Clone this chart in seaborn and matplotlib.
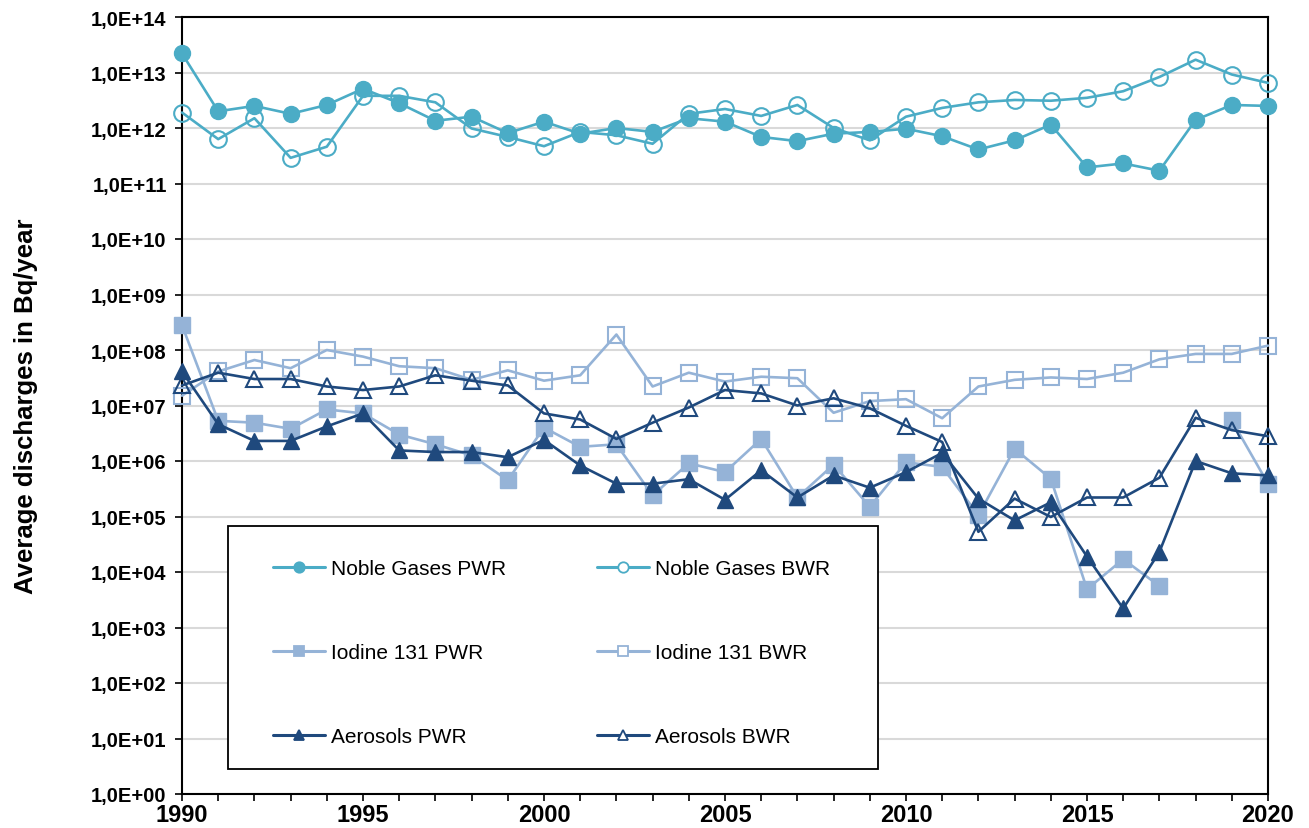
import numpy as np
import pandas as pd
import matplotlib
matplotlib.use("Agg")
import matplotlib.pyplot as plt
import matplotlib.ticker as mticker
from matplotlib.lines import Line2D
from matplotlib.patches import Rectangle
import seaborn as sns

# Average yearly discharges with exhaust air (Bq/year)
years = list(range(1990, 2021))

noble_gases_pwr = [2.2e13, 2.0e12, 2.5e12, 1.8e12, 2.6e12, 5.1e12, 2.8e12, 1.35e12,
                   1.6e12, 8.1e11, 1.3e12, 7.9e11, 1.0e12, 8.5e11, 1.5e12, 1.3e12,
                   6.9e11, 5.8e11, 7.9e11, 8.5e11, 9.7e11, 7.1e11, 4.1e11, 6.0e11,
                   1.15e12, 1.95e11, 2.3e11, 1.7e11, 1.4e12, 2.6e12, 2.5e12]
noble_gases_bwr = [1.9e12, 6.3e11, 1.5e12, 2.9e11, 4.6e11, 3.8e12, 3.8e12, 2.9e12,
                   9.8e11, 6.9e11, 4.7e11, 8.5e11, 7.4e11, 5.2e11, 1.8e12, 2.2e12,
                   1.65e12, 2.6e12, 1.0e12, 6.0e11, 1.6e12, 2.3e12, 2.9e12, 3.2e12,
                   3.1e12, 3.5e12, 4.6e12, 8.3e12, 1.7e13, 9.2e12, 6.5e12]
iodine_pwr = [2.8e8, 5.3e6, 4.9e6, 3.8e6, 8.5e6, 7.2e6, 3.0e6, 2.0e6,
              1.26e6, 4.5e5, 4.0e6, 1.8e6, 2.0e6, 2.4e5, 9.1e5, 6.3e5,
              2.5e6, 2.2e5, 8.6e5, 1.5e5, 9.5e5, 7.8e5, 1.05e5, 1.66e6,
              4.8e5, 4.9e3, 1.7e4, 5.6e3, np.nan, 5.4e6, 3.9e5]
iodine_bwr = [1.5e7, 4.1e7, 6.6e7, 4.7e7, 1.0e8, 7.6e7, 5.1e7, 4.7e7,
              2.9e7, 4.3e7, 2.8e7, 3.5e7, 1.9e8, 2.2e7, 3.9e7, 2.7e7,
              3.3e7, 3.1e7, 7.4e6, 1.2e7, 1.3e7, 5.9e6, 2.2e7, 2.9e7,
              3.2e7, 3.0e7, 3.9e7, 6.8e7, 8.5e7, 8.5e7, 1.2e8]
aerosols_pwr = [4.1e7, 4.6e6, 2.3e6, 2.3e6, 4.2e6, 7.2e6, 1.55e6, 1.45e6,
                1.45e6, 1.17e6, 2.4e6, 8.3e5, 3.9e5, 3.9e5, 4.7e5, 2.0e5,
                6.8e5, 2.2e5, 5.5e5, 3.3e5, 6.3e5, 1.4e6, 2.1e5, 8.5e4,
                1.8e5, 1.9e4, 2.2e3, 2.3e4, 1.0e6, 6.0e5, 5.5e5]
aerosols_bwr = [2.3e7, 3.9e7, 3.0e7, 3.0e7, 2.2e7, 1.9e7, 2.2e7, 3.5e7,
                2.8e7, 2.3e7, 7.2e6, 5.6e6, 2.5e6, 4.9e6, 9.2e6, 1.9e7,
                1.65e7, 1.0e7, 1.35e7, 8.9e6, 4.3e6, 2.2e6, 5.3e4, 2.1e5,
                9.8e4, 2.2e5, 2.2e5, 5.0e5, 6.0e6, 3.6e6, 2.8e6]

series_labels = ["Noble Gases PWR", "Noble Gases BWR", "Iodine 131 PWR",
                 "Iodine 131 BWR", "Aerosols PWR", "Aerosols BWR"]
series_values = [noble_gases_pwr, noble_gases_bwr, iodine_pwr,
                 iodine_bwr, aerosols_pwr, aerosols_bwr]

exponents = list(range(0, 15))
y_tick_labels = [f"1,0E+{k:02d}" for k in exponents]
x_tick_years = list(range(1990, 2021, 5))

TEAL = "#4BACC6"
LIGHT_BLUE = "#95B3D7"
NAVY = "#1F497D"

styles = {
    "Noble Gases PWR": dict(color=TEAL, marker="o", filled=True, ms=11.5, lms=7.5),
    "Noble Gases BWR": dict(color=TEAL, marker="o", filled=False, ms=12, lms=7.5),
    "Iodine 131 PWR": dict(color=LIGHT_BLUE, marker="s", filled=True, ms=11, lms=7),
    "Iodine 131 BWR": dict(color=LIGHT_BLUE, marker="s", filled=False, ms=11, lms=7),
    "Aerosols PWR": dict(color=NAVY, marker="^", filled=True, ms=12, lms=7.5),
    "Aerosols BWR": dict(color=NAVY, marker="^", filled=False, ms=12, lms=7.5),
}

sns.set_style("ticks")
plt.rcParams["font.family"] = ["Liberation Sans", "DejaVu Sans"]
plt.rcParams["text.color"] = "black"
plt.rcParams["xtick.color"] = "black"
plt.rcParams["ytick.color"] = "black"
plt.rcParams["axes.labelcolor"] = "black"

fig = plt.figure(figsize=(13.09, 8.29), dpi=100)
ax = fig.add_axes([182 / 1309, 1 - 795 / 829, 1086 / 1309, 777 / 829])

for label, values in zip(series_labels, series_values):
    st = styles[label]
    df = pd.DataFrame({"year": years, "value": values})
    # a missing year breaks the line into separate segments
    df["segment"] = df["value"].isna().cumsum()
    df = df.dropna()
    sns.lineplot(
        data=df, x="year", y="value", units="segment", estimator=None,
        ax=ax, color=st["color"], linewidth=1.9, marker=st["marker"],
        markersize=st["ms"],
        markerfacecolor=st["color"] if st["filled"] else "none",
        markeredgecolor=st["color"],
        markeredgewidth=1.0 if st["filled"] else 1.5,
        legend=False, clip_on=False, zorder=3,
    )

ax.set_yscale("log")
ax.set_ylim(1, 1e14)
ax.set_yticks([10.0 ** k for k in exponents])
ax.set_yticklabels(y_tick_labels)
ax.yaxis.set_minor_locator(mticker.NullLocator())

ax.set_xlim(1990, 2020)
ax.set_xticks(x_tick_years)
ax.set_xticklabels([str(y) for y in x_tick_years])
ax.xaxis.set_minor_locator(mticker.MultipleLocator(1))

ax.yaxis.grid(True, color="#D9D9D9", linewidth=1.5)
ax.set_axisbelow(True)

for side in ["left", "right", "top", "bottom"]:
    ax.spines[side].set_visible(True)
    ax.spines[side].set_color("black")
    ax.spines[side].set_linewidth(1.5)

ax.tick_params(axis="both", which="both", direction="out", length=5,
               width=1.2, color="black", labelcolor="black")
ax.tick_params(axis="y", labelsize=14.5, pad=6)
ax.tick_params(axis="x", labelsize=17, pad=1.5)
for t in ax.get_yticklabels() + ax.get_xticklabels():
    t.set_fontweight("bold")

ax.set_xlabel("")
ax.set_ylabel("Average discharges in Bq/year", fontsize=18.5,
              fontweight="bold", color="black")
ax.yaxis.set_label_coords(-0.133, 0.5)

# legend box
ax.add_patch(Rectangle((0.042, 0.032), 0.599, 0.313, transform=ax.transAxes,
                       facecolor="white", edgecolor="black", linewidth=1.3,
                       zorder=4))

handles = []
for label in ["Noble Gases PWR", "Iodine 131 PWR", "Aerosols PWR",
              "Noble Gases BWR", "Iodine 131 BWR", "Aerosols BWR"]:
    st = styles[label]
    handles.append(Line2D(
        [], [], color=st["color"], linewidth=2.2, marker=st["marker"],
        markersize=st["lms"],
        markerfacecolor=st["color"] if st["filled"] else "white",
        markeredgecolor=st["color"], markeredgewidth=1.3, label=label))

leg = ax.legend(handles=handles, ncol=2, loc="upper left",
                bbox_to_anchor=((273 - 182) / 1086, (795 - 560) / 777),
                frameon=False, fontsize=15, borderpad=0, borderaxespad=0,
                handlelength=2.5, handletextpad=0.3, labelspacing=3.12,
                columnspacing=4.35)
for txt in leg.get_texts():
    txt.set_color("black")
leg.set_zorder(5)

fig.savefig("out.png", dpi=100)
